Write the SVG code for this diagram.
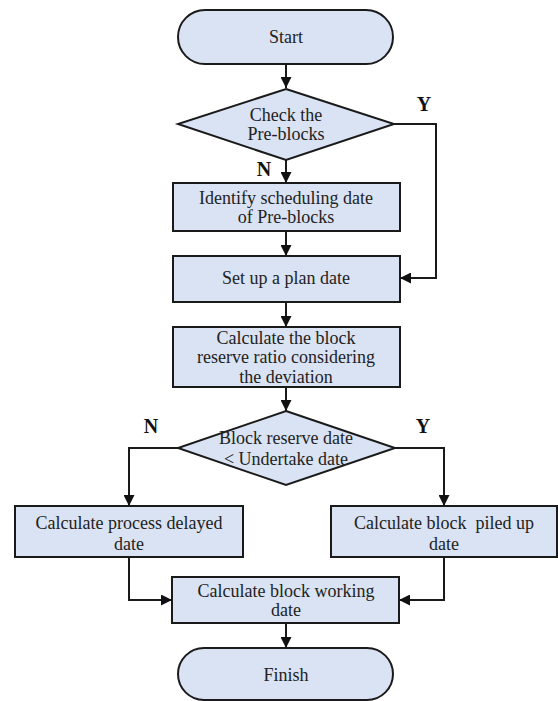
<svg xmlns="http://www.w3.org/2000/svg" width="558" height="701" viewBox="0 0 558 701">
<defs>
<style>
.n{fill:#dae3f3;stroke:#1a1a1a;stroke-width:2}
.t{font-family:"Liberation Serif","Times New Roman",serif;font-size:18px;fill:#222;text-anchor:middle}
.l{font-family:"Liberation Serif","Times New Roman",serif;font-size:20px;font-weight:bold;fill:#111;text-anchor:middle}
.c{fill:none;stroke:#1a1a1a;stroke-width:2}
</style>
<marker id="a" viewBox="0 0 10 10" refX="10" refY="5" markerWidth="5.5" markerHeight="5.5" orient="auto" markerUnits="strokeWidth">
<path d="M0,0L10,5L0,10z" fill="#111"/>
</marker>
</defs>
<rect width="558" height="701" fill="#fff"/>
<g id="connectors">
<path class="c" d="M286,64V88" marker-end="url(#a)"/>
<path class="c" d="M286,160V183" marker-end="url(#a)"/>
<path class="c" d="M394,124H436V278H400" marker-end="url(#a)"/>
<path class="c" d="M286,231V256" marker-end="url(#a)"/>
<path class="c" d="M286,302V327" marker-end="url(#a)"/>
<path class="c" d="M286,387V411" marker-end="url(#a)"/>
<path class="c" d="M178,448H129V506" marker-end="url(#a)"/>
<path class="c" d="M395,448H444V506" marker-end="url(#a)"/>
<path class="c" d="M129,557V600H172" marker-end="url(#a)"/>
<path class="c" d="M444,557V600H399" marker-end="url(#a)"/>
<path class="c" d="M286,623V648" marker-end="url(#a)"/>
</g>
<g id="start">
<rect class="n" x="178" y="10" width="215" height="54" rx="27"/>
<text class="t" x="286" y="43">Start</text>
</g>
<g id="check">
<path class="n" d="M286,89L394,124L286,160L178,124z"/>
<text class="t" x="286" y="121">Check the</text>
<text class="t" x="286" y="140">Pre-blocks</text>
</g>
<g id="identify">
<rect class="n" x="173" y="183" width="227" height="48"/>
<text class="t" x="286" y="204">Identify scheduling date</text>
<text class="t" x="286" y="223">of Pre-blocks</text>
</g>
<g id="plan">
<rect class="n" x="173" y="256" width="227" height="46"/>
<text class="t" x="286" y="284">Set up a plan date</text>
</g>
<g id="ratio">
<rect class="n" x="173" y="327" width="227" height="60"/>
<text class="t" x="286" y="344">Calculate the block</text>
<text class="t" x="286" y="363">reserve ratio considering</text>
<text class="t" x="286" y="383">the deviation</text>
</g>
<g id="compare">
<path class="n" d="M286,411L395,448L286,485L178,448z"/>
<text class="t" x="286" y="444">Block reserve date</text>
<text class="t" x="286" y="465">&lt; Undertake date</text>
</g>
<g id="delayed">
<rect class="n" x="15" y="506" width="228" height="51"/>
<text class="t" x="129" y="529">Calculate process delayed</text>
<text class="t" x="129" y="550">date</text>
</g>
<g id="piled">
<rect class="n" x="331" y="506" width="226" height="51"/>
<text class="t" x="444" y="529" xml:space="preserve">Calculate block  piled up</text>
<text class="t" x="444" y="550">date</text>
</g>
<g id="working">
<rect class="n" x="172" y="577" width="227" height="46"/>
<text class="t" x="286" y="597">Calculate block working</text>
<text class="t" x="286" y="616">date</text>
</g>
<g id="finish">
<rect class="n" x="178" y="648" width="215" height="52" rx="26"/>
<text class="t" x="286" y="681">Finish</text>
</g>
<g id="labels">
<text class="l" x="424" y="111">Y</text>
<text class="l" x="264" y="176">N</text>
<text class="l" x="151" y="433">N</text>
<text class="l" x="423" y="433">Y</text>
</g>
</svg>
